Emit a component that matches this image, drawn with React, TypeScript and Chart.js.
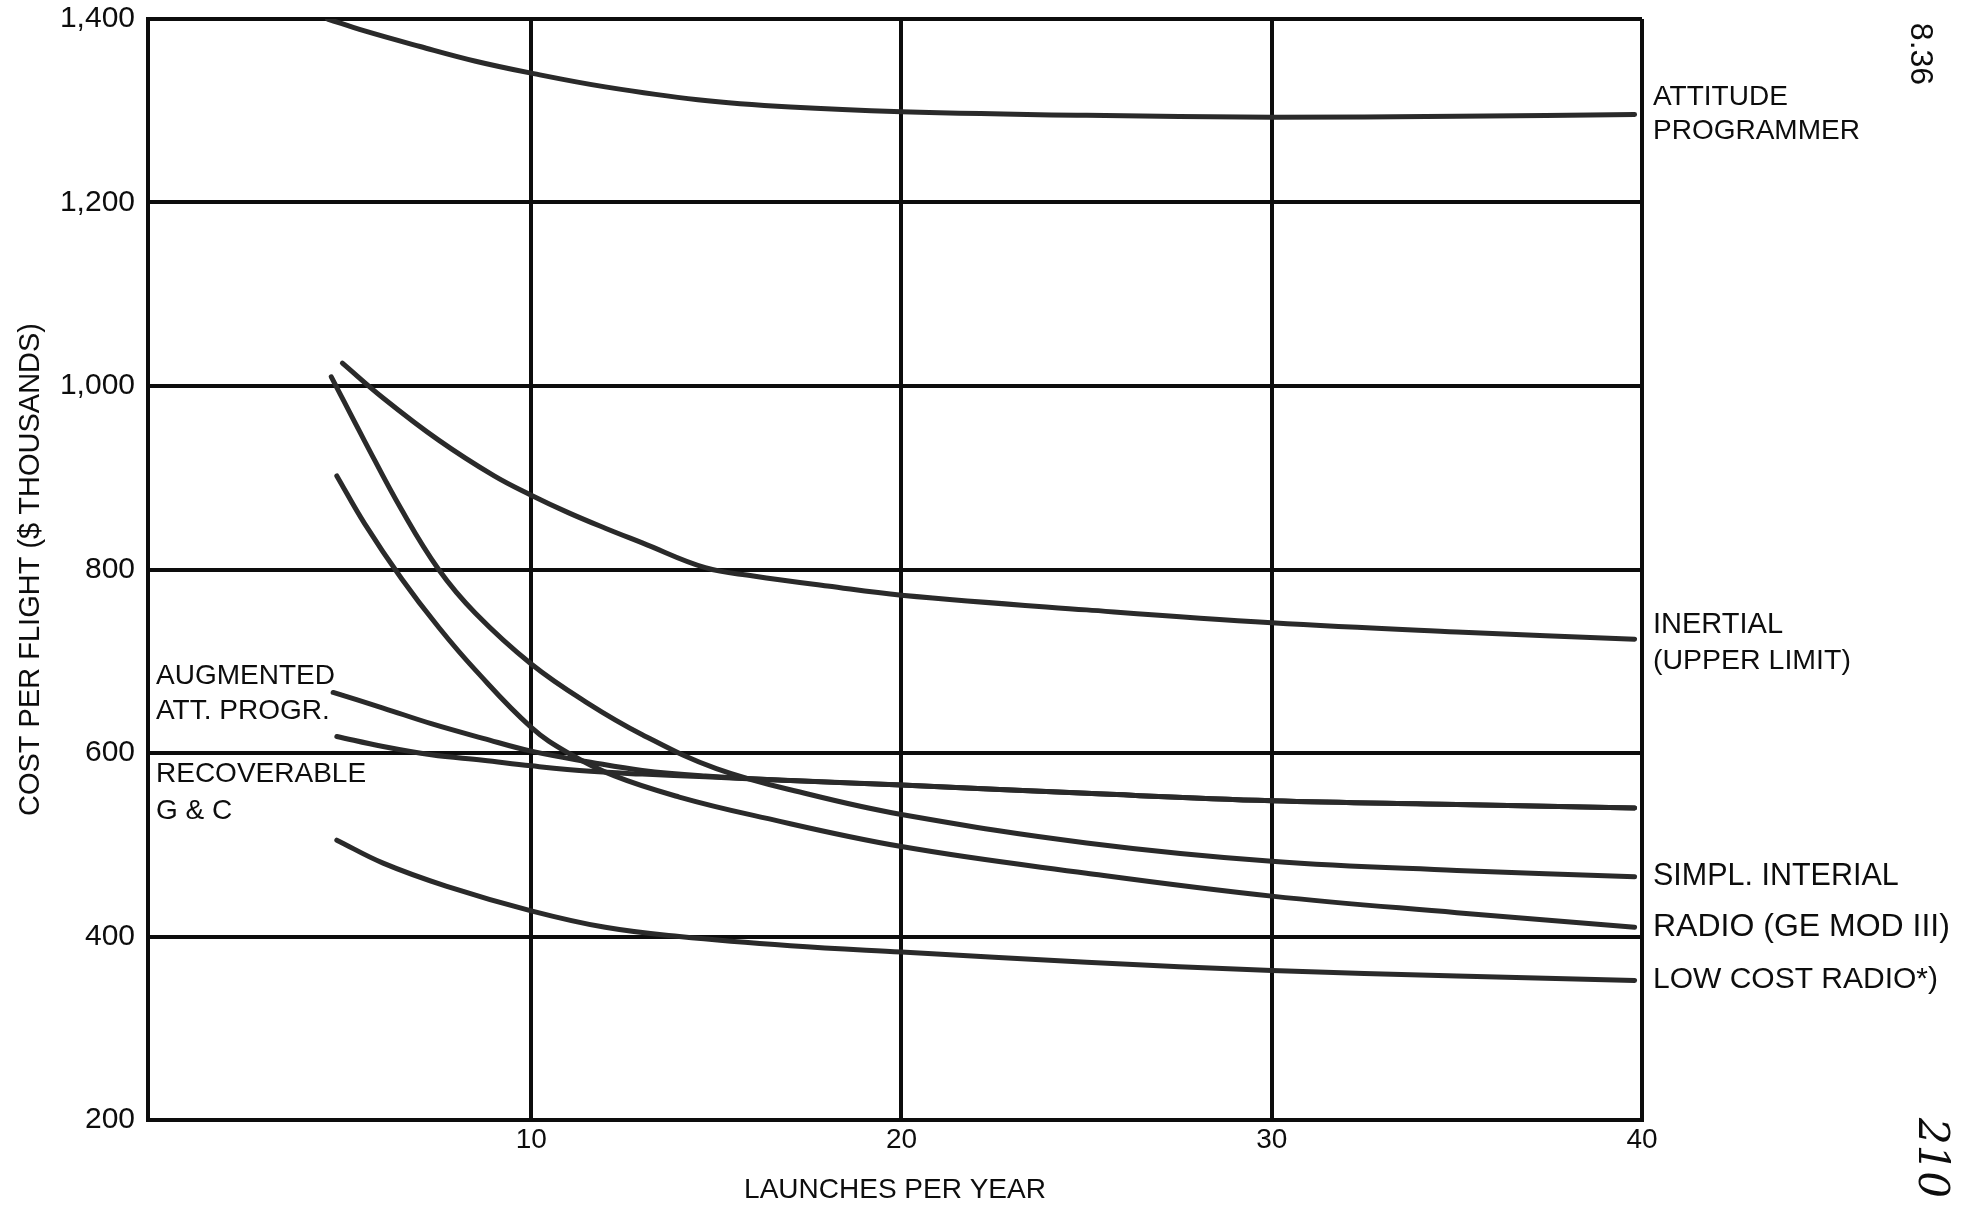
import React, { useEffect, useRef } from 'react';
import { Chart, registerables } from 'chart.js';

Chart.register(...registerables);

const FONT = '"Liberation Sans", Arial, sans-serif';
const INK = '#0d0d0d';
const CURVE = '#2a2a2a';

// Axis ticks
const xTickValues = [10, 20, 30, 40];
const xTickLabels = ['10', '20', '30', '40'];
const yTickValues = [200, 400, 600, 800, 1000, 1200, 1400];
const yTickLabels = ['200', '400', '600', '800', '1,000', '1,200', '1,400'];

// Series: launches per year (x) and cost per flight in $ thousands (y)
const attitudeLaunches = [4.5, 5.5, 7, 8.5, 10, 12, 14.5, 17, 20, 25, 30, 35, 39.8];
const attitudeCost = [1400, 1387, 1370, 1354, 1341, 1326, 1312, 1304, 1299, 1295, 1293, 1294, 1296];

const inertialLaunches = [4.9, 6, 7.5, 9, 10, 11, 12, 13, 14.7, 16, 18, 20, 25, 30, 35, 39.8];
const inertialCost = [1025, 987, 941, 902, 881, 862, 845, 829, 802, 793, 782, 772, 756, 742, 732, 724];

const simplLaunches = [4.6, 5.5, 6.5, 7.5, 8.5, 10, 11.5, 13, 15, 17.5, 20, 25, 30, 35, 39.8];
const simplCost = [1010, 940, 865, 800, 752, 697, 655, 620, 583, 555, 533, 502, 482, 472, 465];

const radioLaunches = [4.75, 5.5, 6.5, 7.5, 8.5, 10, 11, 12.25, 14, 16, 20, 25, 30, 35, 39.8];
const radioCost = [902, 850, 790, 737, 690, 628, 600, 575, 552, 532, 498, 469, 444, 426, 410];

const augmentedLaunches = [4.65, 6, 7.3, 8.7, 10, 11.6, 13, 14.7, 17, 20, 25, 30, 35, 39.8];
const augmentedCost = [666, 649, 632, 616, 602, 590, 581, 575, 570, 565, 556, 548, 544, 540];

const recoverableLaunches = [4.75, 6, 7.3, 8.7, 10, 11.6, 13, 14.7, 17, 20, 25, 30, 35, 39.8];
const recoverableCost = [618, 607, 598, 592, 586, 580, 577, 574, 570, 565, 556, 548, 544, 540];

const lowCostLaunches = [4.75, 6, 7.7, 10, 12, 14, 17, 20, 25, 30, 35, 39.8];
const lowCostCost = [505, 480, 455, 428, 410, 400, 390, 383, 372, 363, 357, 352];

// Curve labels (text, anchored at a cost value)
const rightLabelTexts = ['ATTITUDE', 'PROGRAMMER', 'INERTIAL', '(UPPER LIMIT)', 'SIMPL. INTERIAL', 'RADIO (GE MOD III)', 'LOW COST RADIO*)'];
const rightLabelValues = [1315, 1278, 740, 700, 465, 410, 353];
const rightLabelSizes = [28, 28, 29, 28.5, 30.5, 32, 30];
const leftLabelTexts = ['AUGMENTED', 'ATT. PROGR.', 'RECOVERABLE', 'G & C'];
const leftLabelValues = [684, 646, 577, 537];

const xTitle = 'LAUNCHES PER YEAR';
const yTitle = 'COST PER FLIGHT ($ THOUSANDS)';
const pageNumber = '8.36';
const handNote = '210';

const pts = (xs: number[], ys: number[]) => xs.map((x, i) => ({ x, y: ys[i] }));

const labelPlugin = {
  id: 'curveLabels',
  afterDraw(chart: any) {
    const { ctx, chartArea, scales } = chart;
    const ys = scales.y;
    ctx.save();
    ctx.fillStyle = INK;
    ctx.textBaseline = 'middle';
    ctx.textAlign = 'left';
    rightLabelTexts.forEach((t, i) => {
      ctx.font = `${rightLabelSizes[i]}px ${FONT}`;
      ctx.fillText(t, chartArea.right + 11, ys.getPixelForValue(rightLabelValues[i]));
    });
    ctx.font = `28px ${FONT}`;
    leftLabelTexts.forEach((t, i) => {
      ctx.fillText(t, chartArea.left + 8, ys.getPixelForValue(leftLabelValues[i]));
    });
    // page marks
    ctx.save();
    ctx.translate(1920, 54);
    ctx.rotate(Math.PI / 2);
    ctx.textAlign = 'center';
    ctx.font = `32px ${FONT}`;
    ctx.fillText(pageNumber, 0, 0);
    ctx.restore();
    ctx.save();
    ctx.translate(1930, 1158);
    ctx.rotate(Math.PI / 2);
    ctx.textAlign = 'center';
    ctx.font = `italic 42px "DejaVu Serif", serif`;
    ctx.fillText(handNote, 0, 0);
    ctx.restore();
    ctx.restore();
  },
};

export default function App() {
  const ref = useRef<HTMLCanvasElement | null>(null);

  useEffect(() => {
    if (!ref.current) return;
    const mk = (label: string, xs: number[], ys: number[]) => ({
      label,
      data: pts(xs, ys),
      borderColor: CURVE,
      borderWidth: 5,
      pointRadius: 0,
      fill: false,
      tension: 0.4,
      borderCapStyle: 'round' as const,
      borderJoinStyle: 'round' as const,
    });
    const chart = new Chart(ref.current, {
      type: 'line',
      data: {
        datasets: [
          mk('Attitude Programmer', attitudeLaunches, attitudeCost),
          mk('Inertial (Upper Limit)', inertialLaunches, inertialCost),
          mk('Simpl. Interial', simplLaunches, simplCost),
          mk('Radio (GE Mod III)', radioLaunches, radioCost),
          mk('Augmented Att. Progr.', augmentedLaunches, augmentedCost),
          mk('Recoverable G & C', recoverableLaunches, recoverableCost),
          mk('Low Cost Radio', lowCostLaunches, lowCostCost),
        ],
      },
      options: {
        responsive: false,
        animation: false,
        events: [],
        layout: { padding: { left: 0, right: 331, top: 19, bottom: 0 } },
        plugins: { legend: { display: false }, tooltip: { enabled: false } },
        scales: {
          x: {
            type: 'linear',
            min: -0.35,
            max: 40,
            afterBuildTicks: (axis: any) => {
              axis.ticks = xTickValues.map((v) => ({ value: v }));
            },
            afterFit: (axis: any) => {
              axis.height = 88;
              axis.paddingLeft = 0;
              axis.paddingRight = 0;
            },
            grid: { color: INK, lineWidth: 4, drawTicks: false },
            border: { display: true, color: INK, width: 4 },
            ticks: {
              autoSkip: false,
              maxRotation: 0,
              padding: 3,
              color: INK,
              font: { size: 28, family: FONT },
              callback: (v: any) => {
                const i = xTickValues.indexOf(Number(v));
                return i >= 0 ? xTickLabels[i] : '';
              },
            },
            title: {
              display: true,
              text: xTitle,
              color: INK,
              font: { size: 28, family: FONT },
              padding: { top: 0, bottom: 1 },
            },
          },
          y: {
            type: 'linear',
            min: 200,
            max: 1400,
            afterBuildTicks: (axis: any) => {
              axis.ticks = yTickValues.map((v) => ({ value: v }));
            },
            afterFit: (axis: any) => {
              axis.width = 148;
              axis.paddingTop = 0;
              axis.paddingBottom = 0;
            },
            grid: { color: INK, lineWidth: 4, drawTicks: false },
            border: { display: true, color: INK, width: 4 },
            ticks: {
              autoSkip: false,
              padding: 13,
              color: INK,
              font: { size: 30, family: FONT },
              callback: (v: any) => {
                const i = yTickValues.indexOf(Number(v));
                return i >= 0 ? yTickLabels[i] : '';
              },
            },
            title: {
              display: true,
              text: yTitle,
              color: INK,
              font: { size: 29, family: FONT },
              padding: { top: 14, bottom: 0 },
            },
          },
        },
      },
      plugins: [labelPlugin],
    } as any);
    return () => chart.destroy();
  }, []);

  return (
    <div style={{ position: 'absolute', left: 0, top: 0, width: 1973, height: 1208, background: '#fff' }}>
      <canvas ref={ref} width={1973} height={1208} style={{ display: 'block' }} />
    </div>
  );
}
